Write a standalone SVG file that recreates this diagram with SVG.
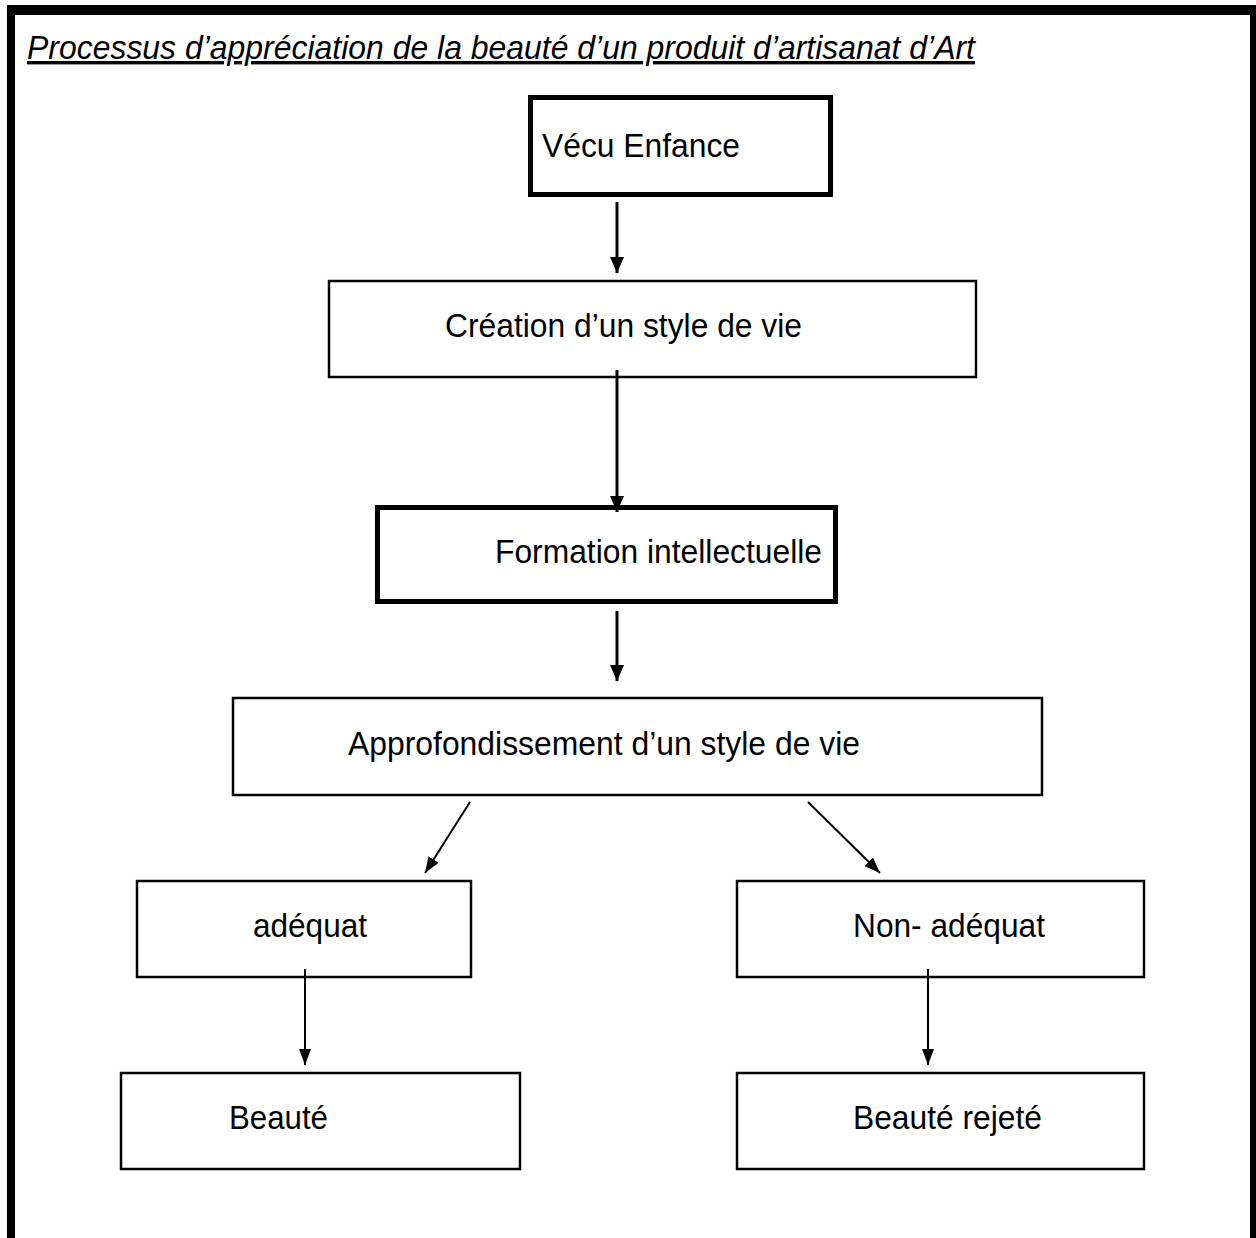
<svg xmlns="http://www.w3.org/2000/svg" width="1256" height="1238" viewBox="0 0 1256 1238">
<style>
  .box { fill: #fff; stroke: #000; }
  .thick { stroke-width: 5; }
  .thin { stroke-width: 2.5; }
  .lbl { font-family: "Liberation Sans", Arial, sans-serif; font-size: 33.5px; fill: #000; }
  .title { font-family: "Liberation Sans", Arial, sans-serif; font-size: 34px; font-style: italic; fill: #000; }
  .c3 { stroke: #000; stroke-width: 3; fill: none; }
  .c2 { stroke: #000; stroke-width: 2; fill: none; }
</style>
<defs>
  <marker id="ah" markerUnits="userSpaceOnUse" viewBox="0 0 16 14" refX="16" refY="7" markerWidth="16" markerHeight="14" orient="auto">
    <path d="M0,0 L16,7 L0,14 Z" fill="#000"/>
  </marker>
  <marker id="ahs" markerUnits="userSpaceOnUse" viewBox="0 0 16 12" refX="16" refY="6" markerWidth="16" markerHeight="12" orient="auto">
    <path d="M0,0 L16,6 L0,12 Z" fill="#000"/>
  </marker>
</defs>
<rect x="0" y="0" width="1256" height="1238" fill="#fff"/>
<g id="frame">
  <rect x="7" y="5" width="1249" height="10" fill="#000"/>
  <rect x="7" y="5" width="8" height="1233" fill="#000"/>
  <rect x="1250" y="5" width="6" height="1233" fill="#000"/>
</g>
<text id="title" class="title" x="27" y="59" textLength="948" lengthAdjust="spacingAndGlyphs" text-decoration="underline">Processus d’appréciation de la beauté d’un produit d’artisanat d’Art</text>
<g id="n1"><rect class="box thick" x="530.5" y="97.5" width="300" height="97"/><text class="lbl" x="542" y="157" textLength="198" lengthAdjust="spacingAndGlyphs">Vécu Enfance</text></g>
<g id="n2"><rect class="box thin" x="329" y="281" width="647" height="96"/><text class="lbl" x="445" y="337" textLength="357" lengthAdjust="spacingAndGlyphs">Création d’un style de vie</text></g>
<g id="n3"><rect class="box thick" x="377.5" y="507.5" width="458" height="94"/><text class="lbl" x="495" y="563" textLength="327" lengthAdjust="spacingAndGlyphs">Formation intellectuelle</text></g>
<g id="n4"><rect class="box thin" x="233" y="698" width="809" height="97"/><text class="lbl" x="348" y="755" textLength="512" lengthAdjust="spacingAndGlyphs">Approfondissement d’un style de vie</text></g>
<g id="n5"><rect class="box thin" x="137" y="881" width="334" height="96"/><text class="lbl" x="253" y="937" textLength="114" lengthAdjust="spacingAndGlyphs">adéquat</text></g>
<g id="n6"><rect class="box thin" x="737" y="881" width="407" height="96"/><text class="lbl" x="853" y="937" textLength="192" lengthAdjust="spacingAndGlyphs">Non- adéquat</text></g>
<g id="n7"><rect class="box thin" x="121" y="1073" width="399" height="96"/><text class="lbl" x="229" y="1129" textLength="99" lengthAdjust="spacingAndGlyphs">Beauté</text></g>
<g id="n8"><rect class="box thin" x="737" y="1073" width="407" height="96"/><text class="lbl" x="853" y="1129" textLength="189" lengthAdjust="spacingAndGlyphs">Beauté rejeté</text></g>
<g id="connectors">
  <line class="c3" x1="617" y1="202" x2="617" y2="273" marker-end="url(#ah)"/>
  <line class="c3" x1="617" y1="370" x2="617" y2="512" marker-end="url(#ah)"/>
  <line class="c3" x1="617" y1="611" x2="617" y2="681" marker-end="url(#ah)"/>
  <line class="c2" x1="470" y1="802" x2="425" y2="873" marker-end="url(#ahs)"/>
  <line class="c2" x1="808" y1="802" x2="880" y2="873" marker-end="url(#ahs)"/>
  <line class="c2" x1="305" y1="969" x2="305" y2="1065" marker-end="url(#ahs)"/>
  <line class="c2" x1="928" y1="969" x2="928" y2="1065" marker-end="url(#ahs)"/>
</g>
</svg>
